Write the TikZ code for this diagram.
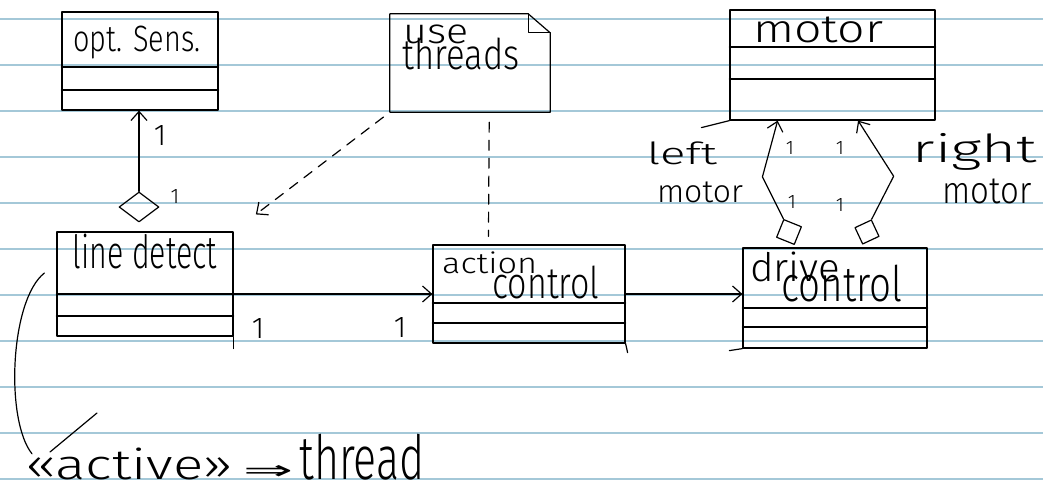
\documentclass[tikz,border=0pt]{standalone}
\usepackage{fontspec}
\usepackage{graphicx}
\newfontfamily\hand{Fira Sans Light}
\newfontfamily\sym{DejaVu Sans}
\usetikzlibrary{arrows.meta,shapes.geometric,calc}
% text squeezed into a given width x total height (pt)
\newcommand\hw[3]{\resizebox*{#1pt}{#2pt}{\hand #3}}
\newcommand\one[1]{\resizebox*{!}{#1pt}{\hand 1}}
\definecolor{paperblue}{RGB}{164,200,216}
\begin{document}
\begin{tikzpicture}[x=1pt,y=-1pt,
  ink/.style={line width=1.2pt,line cap=round,line join=round},
  paperline/.style={draw=paperblue,line width=1.6pt},
  cls/.style={draw,ink,rectangle,inner sep=0pt},
  lbl/.style={inner sep=0pt},
  assoc/.style={ink,-{Straight Barb[length=9pt,width=16pt]}},
  dep/.style={ink,dash pattern=on 10pt off 8pt},
  agg/.style={draw,ink,inner sep=0pt}]
\fill[white] (0,0) rectangle (1043,487);
\useasboundingbox (0,0) rectangle (1043,487);
% ruled paper
\foreach \k in {0,...,10} \draw[paperline] (0,{19+46*\k}) -- (1043,{19+46*\k});

% ---- classes ----
\node[cls,minimum width=156pt,minimum height=98pt] (opt) at (140,61) {};
\draw[ink] (opt.west |- 0,67) -- (opt.east |- 0,67);
\draw[ink] (opt.west |- 0,90) -- (opt.east |- 0,90);
\node[lbl] (optT) at (137,43) {\hw{127}{33}{opt. Sens.}};

\node[cls,minimum width=205pt,minimum height=110pt] (motor) at (832.5,65) {};
\draw[ink] (motor.west |- 0,47) -- (motor.east |- 0,47);
\draw[ink] (motor.west |- 0,79) -- (motor.east |- 0,79);
\draw[ink] (motor.south west) -- ++(-28,7);
\node[lbl] (motorT) at (818,30) {\hw{130}{26}{motor}};

\node[cls,minimum width=176pt,minimum height=104pt] (ld) at (145,284) {};
\draw[ink] (ld.west |- 0,294) -- (ld.east |- 0,294);
\draw[ink] (ld.west |- 0,316) -- (ld.east |- 0,316);
\draw[ink] (ld.south east) -- ++(0,12);
\node[lbl] (ldT) at (145,251) {\hw{144}{35}{line detect}};

\node[cls,minimum width=192pt,minimum height=98pt] (ac) at (529,294) {};
\draw[ink] (ac.west |- 0,303) -- (ac.east |- 0,303);
\draw[ink] (ac.west |- 0,323) -- (ac.east |- 0,323);
\draw[ink] (ac.south east) -- ++(2,9);
\node[lbl,anchor=west] (acT1) at (442,263) {\hw{95}{22}{action}};
\node[lbl] (acT2) at (546,282) {\hw{107}{33}{control}};

\node[cls,minimum width=184pt,minimum height=100pt] (dc) at (835,298) {};
\draw[ink] (dc.west |- 0,308) -- (dc.east |- 0,308);
\draw[ink] (dc.west |- 0,327) -- (dc.east |- 0,327);
\draw[ink] (dc.south west) -- ++(-13,2);
\node[lbl,anchor=west] (dcT1) at (750,267) {\hw{90}{30}{drive}};
\node[lbl] (dcT2) at (842,284) {\hw{121}{37}{control}};

% ---- note ----
\node[minimum width=160pt,minimum height=98pt,inner sep=0pt] (note) at (470,63) {};
\draw[ink] (note.north west) -- ([xshift=-22pt]note.north east)
  -- ([yshift=-19pt]note.north east) -- (note.south east)
  -- (note.south west) -- cycle;
\draw[ink] ([xshift=-22pt]note.north east) |- ([yshift=-19pt]note.north east);
\node[lbl,anchor=west] (noteT1) at (403,34) {\hw{65}{19}{use}};
\node[lbl] (noteT2) at (461,54) {\hw{117}{32}{threads}};

% ---- aggregation diamonds ----
\node[agg,diamond,minimum width=40pt,minimum height=30pt] (d1) at (139,207) {};
\node[agg,rectangle,minimum size=19pt,rotate=-22] (dl) at (789,232) {};
\node[agg,rectangle,minimum size=18pt,rotate=25] (dr) at (867,232) {};

% ---- connectors ----
\draw[assoc] (d1.north) -- (d1.north |- opt.south);
\draw[assoc] (ld.east |- ac.west) -- (ac.west);
\draw[assoc] (ac.east) -- (ac.east -| dc.west);
\draw[assoc] (dl.north west) -- ++(-21,-42) -- ($(motor.south west)!0.234!(motor.south east)$);
\draw[assoc] (dr.north east) -- ++(22,-43) -- ($(motor.south west)!0.624!(motor.south east)$);
\draw[dep,-{Straight Barb[length=9pt,width=16pt]},shorten <=8pt,shorten >=28pt]
  (note.south west) -- (ld.north east);
\draw[dep,shorten <=10pt,shorten >=8pt]
  ($(note.south west)!0.62!(note.south east)$) -- ($(ac.north west)!0.29!(ac.north east)$);

% ---- multiplicities and role names ----
\node[lbl] (m1) at (160,135) {\one{20}};
\node[lbl] (m2) at (175,196) {\one{14}};
\node[lbl] (m3) at (258,328) {\one{20}};
\node[lbl] (m4) at (400,327) {\one{20}};
\node[lbl] (m5) at (790,148) {\one{13}};
\node[lbl] (m6) at (840,148) {\one{13}};
\node[lbl] (m7) at (792,202) {\one{13}};
\node[lbl] (m8) at (840,205) {\one{13}};
\node[lbl] (leftT1) at (682,153) {\hw{70}{23}{left}};
\node[lbl] (leftT2) at (700,192) {\hw{86}{21}{motor}};
\node[lbl] (rightT1) at (975,152) {\hw{124}{37}{right}};
\node[lbl] (rightT2) at (987,191) {\hw{89}{25}{motor}};

% ---- stereotype remark ----
\node[lbl,anchor=west] (act) at (25,464) {\hw{208}{32}{«active»}};
\node[lbl] (impl) at (268,472) {\resizebox*{50pt}{14pt}{\sym ⇒}};
\node[lbl] (thr) at (362,457) {\hw{125}{46}{thread}};
\draw[ink] ([shift={(-12pt,11pt)}]ld.west) .. controls (10,300) and (5,420) .. ([shift={(7pt,-6pt)}]act.north west);
\draw[ink] (97,413) -- (50,452);
\end{tikzpicture}
\end{document}
